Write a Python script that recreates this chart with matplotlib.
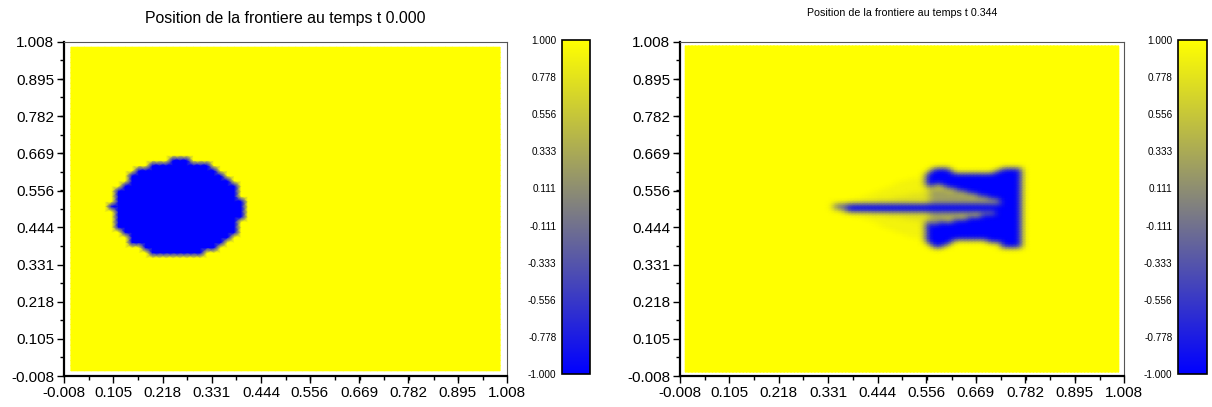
import numpy as np
import matplotlib
matplotlib.use("Agg")
import matplotlib.pyplot as plt
from matplotlib.colors import LinearSegmentedColormap
from matplotlib.path import Path
from matplotlib.ticker import AutoMinorLocator

plt.rcParams['font.family'] = ['Liberation Sans', 'DejaVu Sans']

# --- data ----------------------------------------------------------------
titles = ["Position de la frontiere au temps t 0.000",
          "Position de la frontiere au temps t 0.344"]
axis_ticks = [-0.008, 0.105, 0.218, 0.331, 0.444, 0.556, 0.669, 0.782, 0.895, 1.008]
cbar_ticks = [-1.000, -0.778, -0.556, -0.333, -0.111, 0.111, 0.333, 0.556, 0.778, 1.000]

# t = 0.000 : blob outline (x, y), coarse 64 grid
blob_t0 = [(0.405, 0.503), (0.394, 0.560), (0.361, 0.609), (0.312, 0.642),
           (0.255, 0.653), (0.198, 0.642), (0.149, 0.609), (0.116, 0.560),
           (0.105, 0.503), (0.116, 0.446), (0.149, 0.397), (0.198, 0.364),
           (0.255, 0.353), (0.312, 0.364), (0.361, 0.397), (0.394, 0.446)]
nub_t0 = [(0.090, 0.500), (0.112, 0.500), (0.112, 0.516), (0.090, 0.516)]

# t = 0.344 : pieces of the deformed blob, each with its level
haze_outer_t1 = [(0.340, 0.510), (0.420, 0.540), (0.500, 0.585), (0.565, 0.608),
                 (0.565, 0.400), (0.500, 0.425), (0.420, 0.470), (0.340, 0.502)]
haze_inner_t1 = [(0.380, 0.514), (0.480, 0.535), (0.565, 0.555), (0.565, 0.460),
                 (0.480, 0.478), (0.380, 0.497)]
upper_wedge_t1 = [(0.560, 0.570), (0.736, 0.521), (0.736, 0.512), (0.560, 0.512)]
lower_wedge_t1 = [(0.560, 0.498), (0.717, 0.492), (0.572, 0.458), (0.560, 0.462)]
upper_wing_t1 = [(0.556, 0.600), (0.562, 0.618), (0.580, 0.624), (0.605, 0.622),
                 (0.625, 0.610), (0.700, 0.608), (0.735, 0.622), (0.772, 0.622),
                 (0.772, 0.521), (0.736, 0.521), (0.650, 0.551), (0.580, 0.575),
                 (0.556, 0.568)]
lower_wing_t1 = [(0.558, 0.462), (0.572, 0.456), (0.640, 0.470), (0.717, 0.489),
                 (0.772, 0.492), (0.772, 0.390), (0.745, 0.386), (0.715, 0.402),
                 (0.620, 0.404), (0.595, 0.386), (0.570, 0.386), (0.558, 0.396)]
back_bar_t1 = [(0.728, 0.386), (0.774, 0.386), (0.774, 0.624), (0.728, 0.624)]
spike_t1 = [(0.378, 0.494), (0.740, 0.494), (0.740, 0.519), (0.378, 0.519)]
spike_tip_t1 = [(0.345, 0.501), (0.378, 0.494), (0.378, 0.519), (0.345, 0.512)]

shapes_t0 = [(blob_t0, -1.0), (nub_t0, -1.0)]
shapes_t1 = [(haze_outer_t1, 0.90), (haze_inner_t1, 0.75),
             (upper_wedge_t1, 0.25), (lower_wedge_t1, 0.30),
             (upper_wing_t1, -1.0), (lower_wing_t1, -1.0), (back_bar_t1, -1.0),
             (spike_tip_t1, -0.3), (spike_t1, -1.0)]


def build_field(shapes, n, smooth_passes=0):
    c = (np.arange(n) + 0.5) / n
    gx, gy = np.meshgrid(c, c)
    pts = np.column_stack([gx.ravel(), gy.ravel()])
    field = np.ones(gx.shape)
    for verts, level in shapes:
        inside = Path(verts).contains_points(pts).reshape(gx.shape)
        field[inside] = level
    # soften the interface the way the diffused solution looks
    for _ in range(smooth_passes):
        f = np.pad(field, 1, mode="edge")
        field = (f[:-2, 1:-1] + 2 * f[1:-1, 1:-1] + f[2:, 1:-1]) / 4
        f = np.pad(field, 1, mode="edge")
        field = (f[1:-1, :-2] + 2 * f[1:-1, 1:-1] + f[1:-1, 2:]) / 4
    return c, field


cmap = LinearSegmentedColormap.from_list("blue_yellow", [(0, 0, 1), (1, 1, 0)])

fig = plt.figure(figsize=(12.12, 4.07), dpi=100)
W, H = 1212, 407
panels = [
    dict(ax=(64, 42, 443, 334), cb=(562, 40, 28, 334), shapes=shapes_t0,
         n=64, smooth=0, tsize=11.4, ty=18),
    dict(ax=(680, 42, 444, 334), cb=(1178, 40, 29, 334), shapes=shapes_t1,
         n=128, smooth=2, tsize=7.7, ty=13),
]

for title, p in zip(titles, panels):
    x0, y0, w, h = p["ax"]
    ax = fig.add_axes([x0 / W, (H - y0 - h) / H, w / W, h / H])
    c, field = build_field(p["shapes"], p["n"], p["smooth"])
    mesh = ax.pcolormesh(c, c, field, shading="gouraud", cmap=cmap, vmin=-1, vmax=1)
    ax.set_xlim(-0.008, 1.008)
    ax.set_ylim(-0.008, 1.008)
    ax.set_xticks(axis_ticks)
    ax.set_yticks(axis_ticks)
    ax.set_xticklabels([f"{v:.3f}" for v in axis_ticks])
    ax.set_yticklabels([f"{v:.3f}" for v in axis_ticks])
    ax.xaxis.set_minor_locator(AutoMinorLocator(2))
    ax.yaxis.set_minor_locator(AutoMinorLocator(2))
    ax.tick_params(which="major", direction="out", length=5, width=1, labelsize=11, pad=2)
    ax.tick_params(which="minor", direction="out", length=3, width=1)
    for side in ("left", "bottom"):
        ax.spines[side].set_linewidth(1.6)
        ax.spines[side].set_color("black")
    for side in ("top", "right"):
        ax.spines[side].set_linewidth(0.8)
        ax.spines[side].set_color("#555555")
    fig.text((x0 + w / 2) / W, 1 - p["ty"] / H, title, ha="center", va="center",
             fontsize=p["tsize"])

    cx, cy, cw, ch = p["cb"]
    cax = fig.add_axes([cx / W, (H - cy - ch) / H, cw / W, ch / H])
    cb = fig.colorbar(mesh, cax=cax, ticks=cbar_ticks)
    cb.ax.yaxis.set_ticks_position("left")
    cb.ax.set_yticklabels([f"{v:.3f}" for v in cbar_ticks])
    cb.ax.tick_params(length=0, labelsize=7.2, pad=4)
    cb.outline.set_linewidth(1.2)

fig.savefig("out.png", dpi=100)
